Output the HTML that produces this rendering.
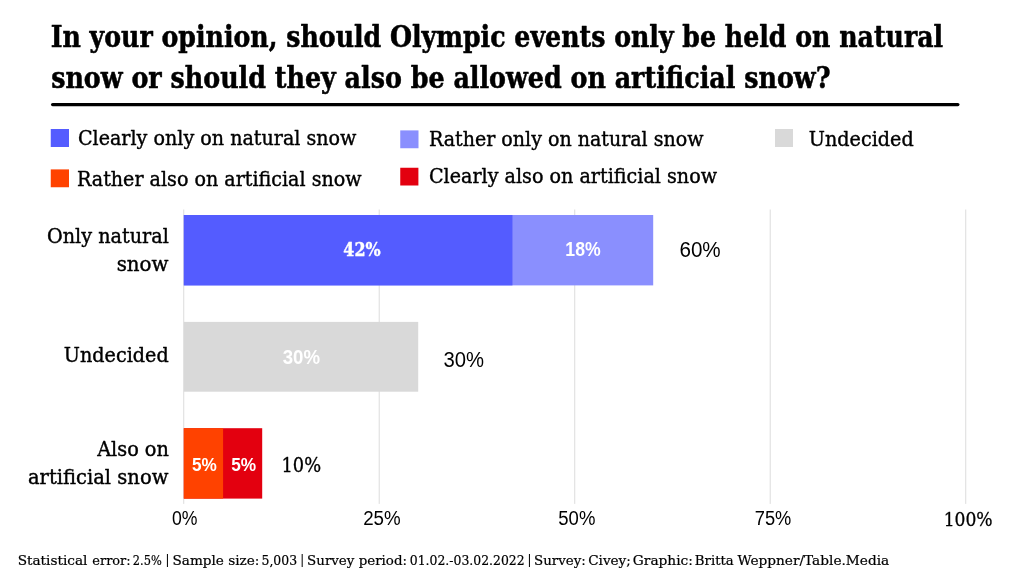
<!DOCTYPE html>
<html lang="en">
<head>
<meta charset="utf-8">
<title>Olympic events: natural or artificial snow?</title>
<style>
html,body{margin:0;padding:0;background:#fff}
svg{display:block}
text{fill:currentColor;stroke:currentColor;stroke-width:0;stroke-linejoin:round;color:#000}
.slab{font-family:"DejaVu Serif","Liberation Serif",serif}
.sans{font-family:"Liberation Sans","DejaVu Sans",sans-serif}
.title{font-weight:700;font-size:30.1px;stroke-width:.55px}
.lbl{font-weight:400;font-size:19.8px;stroke-width:.4px}
.foot{font-weight:400;font-size:13.8px;stroke-width:.22px}
.sep{font-size:13px;stroke-width:0}
.in{font-weight:700;color:#fff}
.in42{font-size:18.8px;stroke-width:.4px}
.in18,.in30{font-size:19.5px}
.in5{font-size:19px}
.tot{font-weight:400;font-size:21.3px}
.tot10{font-size:20.6px;stroke-width:.35px}
.ax{font-weight:400;font-size:19.6px}
.ax100{font-size:19.4px;stroke-width:.3px}
</style>
</head>
<body>
<svg width="1024" height="576" viewBox="0 0 1024 576" role="img">
<rect width="1024" height="576" fill="#fff"/>
<!-- title rule -->
<line x1="52.6" y1="104.6" x2="957.9" y2="104.6" stroke="#000" stroke-width="3.2" stroke-linecap="round"/>
<!-- legend swatches -->
<rect x="50.75" y="129" width="18.25" height="18" fill="#545cff"/>
<rect x="400.25" y="130.4" width="18.25" height="17.85" fill="#8a8ffe"/>
<rect x="775" y="129" width="18" height="18" fill="#d9d9d9"/>
<rect x="50.75" y="169.4" width="18.25" height="17.85" fill="#ff4200"/>
<rect x="400.25" y="167.75" width="18.15" height="17.75" fill="#e3000f"/>
<!-- grid -->
<rect x="183.2" y="209.5" width="1.05" height="294.4" fill="#dedede"/>
<rect x="378.7" y="209.5" width="1.05" height="294.4" fill="#dedede"/>
<rect x="574.2" y="209.5" width="1.05" height="294.4" fill="#dedede"/>
<rect x="769.7" y="209.5" width="1.05" height="294.4" fill="#dedede"/>
<rect x="965.2" y="209.5" width="1.05" height="294.4" fill="#dedede"/>
<!-- bars -->
<rect x="183.8" y="215" width="469.4" height="70.4" fill="#8a8ffe"/>
<rect x="183.8" y="215" width="328.64" height="70.4" fill="#545cff"/>
<rect x="183.8" y="321.9" width="234.41" height="69.8" fill="#d9d9d9"/>
<rect x="183.8" y="428.2" width="78.4" height="70.4" fill="#e3000f"/>
<rect x="183.8" y="428.2" width="39.3" height="70.4" fill="#ff4200"/>
<!-- title -->
<g id="title">
<text class="slab title" x="50.63" y="47.1" textLength="892.57" lengthAdjust="spacingAndGlyphs">In your opinion, should Olympic events only be held on natural</text>
<text class="slab title" x="51.13" y="88.25" textLength="779.42" lengthAdjust="spacingAndGlyphs">snow or should they also be allowed on artificial snow?</text>
</g>
<!-- legend -->
<g id="legend">
<text class="slab lbl" x="77.96" y="145.25" textLength="278.51" lengthAdjust="spacingAndGlyphs">Clearly only on natural snow</text>
<text class="slab lbl" x="428.98" y="146" textLength="274.53" lengthAdjust="spacingAndGlyphs">Rather only on natural snow</text>
<text class="slab lbl" x="808.78" y="145.5" textLength="104.98" lengthAdjust="spacingAndGlyphs">Undecided</text>
<text class="slab lbl" x="76.97" y="185.8" textLength="284.6" lengthAdjust="spacingAndGlyphs">Rather also on artificial snow</text>
<text class="slab lbl" x="428.97" y="182.6" textLength="288.07" lengthAdjust="spacingAndGlyphs">Clearly also on artificial snow</text>
</g>
<!-- categories -->
<g id="categories">
<text class="slab lbl" x="46.98" y="243" textLength="121.9" lengthAdjust="spacingAndGlyphs">Only natural</text>
<text class="slab lbl" x="116.71" y="271" textLength="51.76" lengthAdjust="spacingAndGlyphs">snow</text>
<text class="slab lbl" x="63.78" y="362" textLength="104.98" lengthAdjust="spacingAndGlyphs">Undecided</text>
<text class="slab lbl" x="97.15" y="455.5" textLength="71.77" lengthAdjust="spacingAndGlyphs">Also on</text>
<text class="slab lbl" x="27.98" y="483.75" textLength="140.39" lengthAdjust="spacingAndGlyphs">artificial snow</text>
</g>
<!-- values -->
<g id="values">
<text class="slab in in42" x="343.34" y="255.75" textLength="37.32" lengthAdjust="spacingAndGlyphs">42%</text>
<text class="sans in in18" x="565.37" y="255.6" textLength="35.28" lengthAdjust="spacingAndGlyphs">18%</text>
<text class="sans in in30" x="282.74" y="364" textLength="37.32" lengthAdjust="spacingAndGlyphs">30%</text>
<text class="sans in in5" x="192.03" y="471" textLength="24.84" lengthAdjust="spacingAndGlyphs">5%</text>
<text class="sans in in5" x="231.14" y="471" textLength="24.94" lengthAdjust="spacingAndGlyphs">5%</text>
</g>
<!-- totals -->
<g id="totals">
<text class="sans tot" x="679.42" y="257.4" textLength="41.3" lengthAdjust="spacingAndGlyphs">60%</text>
<text class="sans tot" x="443.4" y="366.6" textLength="40.53" lengthAdjust="spacingAndGlyphs">30%</text>
<text class="slab tot tot10" x="281.46" y="472" textLength="39.62" lengthAdjust="spacingAndGlyphs">10%</text>
</g>
<!-- axis -->
<g id="axis">
<text class="sans ax" x="171.97" y="525.3" textLength="25.5" lengthAdjust="spacingAndGlyphs">0%</text>
<text class="sans ax" x="363.17" y="525.3" textLength="37.48" lengthAdjust="spacingAndGlyphs">25%</text>
<text class="sans ax" x="558.29" y="525.3" textLength="37.09" lengthAdjust="spacingAndGlyphs">50%</text>
<text class="sans ax" x="754.75" y="525.3" textLength="36.59" lengthAdjust="spacingAndGlyphs">75%</text>
<text class="slab ax ax100" x="943.65" y="525.5" textLength="49.02" lengthAdjust="spacingAndGlyphs">100%</text>
</g>
<!-- footer -->
<g id="footer">
<text class="slab foot" x="17.65" y="564.75" textLength="69.84" lengthAdjust="spacingAndGlyphs">Statistical</text>
<text class="slab foot" x="92.33" y="564.75" textLength="38.31" lengthAdjust="spacingAndGlyphs">error:</text>
<text class="slab foot" x="132.85" y="564.75" textLength="28.93" lengthAdjust="spacingAndGlyphs">2.5%</text>
<text class="slab foot sep" x="165.18" y="564.05">|</text>
<text class="slab foot" x="172.46" y="564.75" textLength="86.93" lengthAdjust="spacingAndGlyphs">Sample size:</text>
<text class="slab foot" x="261.53" y="564.75" textLength="35.58" lengthAdjust="spacingAndGlyphs">5,003</text>
<text class="slab foot sep" x="300.06" y="564.05">|</text>
<text class="slab foot" x="307.07" y="564.75" textLength="99.95" lengthAdjust="spacingAndGlyphs">Survey period:</text>
<text class="slab foot" x="409.79" y="564.75" textLength="114.82" lengthAdjust="spacingAndGlyphs">01.02.-03.02.2022</text>
<text class="slab foot sep" x="527.18" y="564.05">|</text>
<text class="slab foot" x="534.05" y="564.75" textLength="51.77" lengthAdjust="spacingAndGlyphs">Survey:</text>
<text class="slab foot" x="588.15" y="564.75" textLength="42.73" lengthAdjust="spacingAndGlyphs">Civey;</text>
<text class="slab foot" x="632.84" y="564.75" textLength="60.13" lengthAdjust="spacingAndGlyphs">Graphic:</text>
<text class="slab foot" x="694.86" y="564.75" textLength="38.84" lengthAdjust="spacingAndGlyphs">Britta</text>
<text class="slab foot" x="737.47" y="564.75" textLength="151.75" lengthAdjust="spacingAndGlyphs">Weppner/Table.Media</text>
</g>
</svg>
</body>
</html>
